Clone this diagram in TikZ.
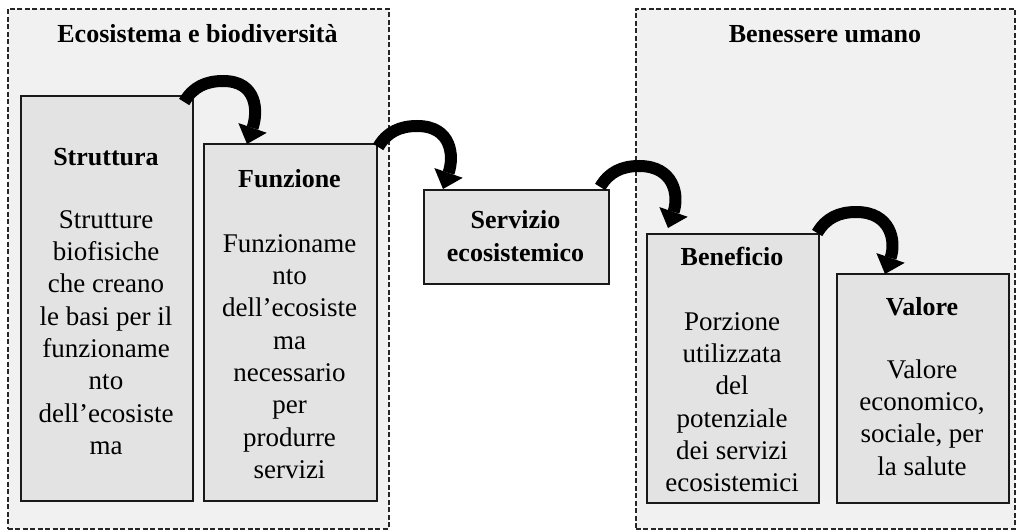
\documentclass[tikz,border=0pt]{standalone}
\usepackage{fontspec}
\setmainfont{Liberation Serif}
\usetikzlibrary{arrows.meta}
\definecolor{outerfill}{HTML}{F1F1F1}
\definecolor{innerfill}{HTML}{E3E3E3}
\begin{document}
\begin{tikzpicture}[x=1pt,y=1pt,
  group/.style={draw=black!85, dash pattern=on 5pt off 2.5pt, line width=1.8pt, fill=outerfill},
  box/.style={draw=black!90, line width=2.2pt, fill=innerfill, anchor=north west, inner sep=0pt},
  ttl/.style={font=\fontsize{26}{31}\selectfont\bfseries, anchor=base, inner sep=0pt},
  body/.style={font=\fontsize{27}{32.3}\selectfont, align=center, anchor=north, inner sep=0pt},
  flow/.style={line width=12pt, -{Triangle[width=30pt,length=17pt,line width=0pt]}},
]
\useasboundingbox (0,0) rectangle (1016,-532);
% groups
\node[group, minimum width=381pt, minimum height=520pt, anchor=north west, inner sep=0pt] (eco) at (7,-8) {};
\node[group, minimum width=379pt, minimum height=520pt, anchor=north west, inner sep=0pt] (ben) at (635,-8) {};
\node[ttl] (ecoT) at (197.5,-43) {Ecosistema e biodiversità};
\node[ttl] (benT) at (825,-43) {Benessere umano};
% boxes
\node[box, minimum width=172pt, minimum height=405pt] (str) at (20,-95) {};
\node[box, minimum width=173pt, minimum height=357pt] (fun) at (203,-143) {};
\node[box, minimum width=185pt, minimum height=94pt] (ser) at (423,-189) {};
\node[box, minimum width=172pt, minimum height=269pt] (bnf) at (646,-233) {};
\node[box, minimum width=172pt, minimum height=229pt] (val) at (836,-273) {};
% texts
\node[ttl] (strT) at (106,-165) {Struttura};
\node[body] (strB) at (106,-205.4) {\strut Strutture\\biofisiche\\che creano\\le basi per il\\funzioname\\nto\\dell’ecosiste\\ma};
\node[ttl] (funT) at (289.5,-187) {Funzione};
\node[body] (funB) at (289.5,-229.4) {\strut Funzioname\\nto\\dell’ecosiste\\ma\\necessario\\per\\produrre\\servizi};
\node[body, font=\fontsize{26}{33}\selectfont\bfseries] (serT) at (515.5,-204.9) {\strut Servizio\\ecosistemico};
\node[ttl] (bnfT) at (732,-265) {Beneficio};
\node[body] (bnfB) at (732,-307.4) {\strut Porzione\\utilizzata\\del\\potenziale\\dei servizi\\ecosistemici};
\node[ttl] (valT) at (922,-315) {Valore};
\node[body] (valB) at (922,-355.4) {\strut Valore\\economico,\\sociale, per\\la salute};
% arrows
\draw[flow] ([xshift=-10pt,yshift=-7pt]str.north east) to[out=60,in=180] ++(39,21) to[out=0,in=71,looseness=1.3] ([xshift=44pt,yshift=-1pt]fun.north west);
\draw[flow] ([xshift=0pt,yshift=-4pt]fun.north east) to[out=60,in=180] ++(39,21) to[out=0,in=71,looseness=1.3] ([xshift=20pt,yshift=0pt]ser.north west);
\draw[flow] ([xshift=-10pt,yshift=2pt]ser.north east) to[out=60,in=180] ++(39,21) to[out=0,in=71,looseness=1.3] ([xshift=22pt,yshift=5pt]bnf.north west);
\draw[flow] ([xshift=-3pt,yshift=0pt]bnf.north east) to[out=60,in=180] ++(39,21) to[out=0,in=71,looseness=1.3] ([xshift=49pt,yshift=-1pt]val.north west);
\end{tikzpicture}
\end{document}
